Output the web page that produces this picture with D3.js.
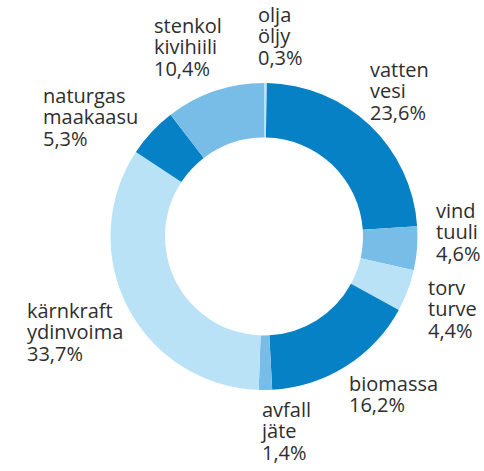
<!DOCTYPE html>
<html>
<head>
<meta charset="utf-8">
<script src="https://cdn.jsdelivr.net/npm/d3@7"></script>
<style>
  body { margin: 0; background: #fff; }
  text { font-family: "Open Sans", sans-serif; fill: #2e2e2e; }
</style>
</head>
<body>
<div id="chart"></div>
<script>
const width = 484;
const height = 471;

// data, clockwise from the top
const labelsSv = ["olja", "vatten", "vind", "torv", "biomassa", "avfall", "kärnkraft", "naturgas", "stenkol"];
const labelsFi = ["öljy", "vesi", "tuuli", "turve", "", "jäte", "ydinvoima", "maakaasu", "kivihiili"];
const shares = [0.3, 23.6, 4.6, 4.4, 16.2, 1.4, 33.7, 5.3, 10.4];
const shade = ["light", "dark", "mid", "light", "dark", "mid", "light", "dark", "mid"];

const colors = { dark: "#0681c5", mid: "#78bde8", light: "#b9e2f7" };

// where each label block starts (left x, first baseline)
const labelPos = [
    [258, 22], [370, 77], [436, 218], [428, 295], [349, 391],
    [262, 417], [27, 318], [43, 103], [154, 33]
];
const lineHeight = 21.3;

const cx = 264, cy = 236.5;
const outerR = 153.5, innerR = 99;

const svg = d3.select("#chart")
    .append("svg")
    .attr("width", width)
    .attr("height", height);

const pie = d3.pie().sort(null).value(d => d)(shares);
const arc = d3.arc().innerRadius(innerR).outerRadius(outerR);

svg.append("g")
    .attr("transform", `translate(${cx},${cy})`)
    .selectAll("path")
    .data(pie)
    .enter()
    .append("path")
    .attr("d", arc)
    .style("fill", (d, i) => colors[shade[i]]);

const fmt = v => v.toFixed(1).replace(".", ",") + "%";

labelsSv.forEach((name, i) => {
    const lines = [name, labelsFi[i], fmt(shares[i])].filter(s => s !== "");
    lines.forEach((s, j) => {
        svg.append("text")
            .attr("x", labelPos[i][0])
            .attr("y", labelPos[i][1] + j * lineHeight)
            .style("font-size", "20px")
            .text(s);
    });
});
</script>
</body>
</html>
